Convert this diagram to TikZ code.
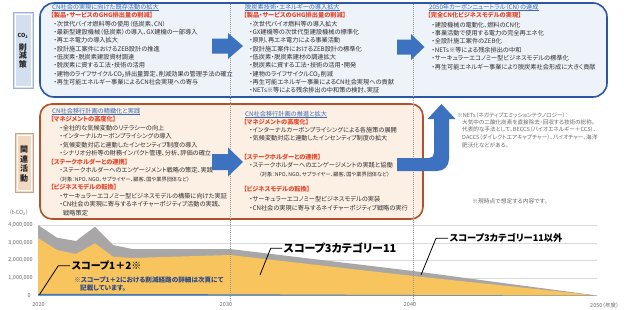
\documentclass[tikz,border=0pt]{standalone}
\usepackage{fontspec}
\setmainfont{Noto Sans CJK JP}[RawFeature=+palt]
\definecolor{topborder}{HTML}{2B58A5}
\definecolor{topfill}{HTML}{EEF2F9}
\definecolor{orgborder}{HTML}{B4512B}
\definecolor{orgfill}{HTML}{FCEFE4}
\definecolor{arrblue}{HTML}{3D72C0}
\definecolor{ttlblue}{HTML}{3A6DB6}
\definecolor{hdred}{HTML}{E4472A}
\definecolor{bodytxt}{HTML}{303030}
\definecolor{notegray}{HTML}{6A6A6A}
\definecolor{gridc}{HTML}{DADADA}
\definecolor{scgray}{HTML}{A9A6A8}
\definecolor{scyellow}{HTML}{F8C45E}
\definecolor{scblue}{HTML}{3F7BC4}
\definecolor{notenavy}{HTML}{2C4A8A}
\definecolor{lblbluefill}{HTML}{D3DFEF}
\definecolor{lblblueline}{HTML}{9FB2CF}
\definecolor{lblorgfill}{HTML}{F2D8C0}
\definecolor{lblorgline}{HTML}{C9A488}
\newcommand\ulx[1]{\setbox0=\hbox{#1}\rlap{\rule[-1.1pt]{\wd0}{0.4pt}}\box0}
\begin{document}
\begin{tikzpicture}[x=1pt,y=-1pt,
 txt/.style={inner sep=0pt,anchor=base west,text=bodytxt,font=\fontsize{6.2}{6.5}\selectfont},
 ttl/.style={txt,text=ttlblue},
 hdr/.style={txt,text=hdred,font=\bfseries\fontsize{6.2}{6.5}\selectfont},
 sml/.style={txt,font=\fontsize{5.2}{5.5}\selectfont},
 fnote/.style={inner sep=0pt,anchor=base west,text=notegray,font=\fontsize{5.6}{6}\selectfont},
 axl/.style={inner sep=0pt,text=notegray,font=\fontsize{5.5}{6}\selectfont},
 bigtxt/.style={inner sep=1.5pt,anchor=west,text=black,font=\bfseries\fontsize{#1}{#1}\selectfont},
 notetxt/.style={inner sep=0pt,anchor=base west,text=notenavy,font=\bfseries\fontsize{6.6}{7}\selectfont},
 leader/.style={draw=black,line width=0.8pt},
 dotl/.style={draw=gray!85,line width=0.6pt,dash pattern=on 0.7pt off 1.3pt},
 vlabel/.style={inner sep=0pt,align=center,text=black!85,font=\bfseries\fontsize{8}{#1}\selectfont}
]
\useasboundingbox (0,0) rectangle (624,309);
\fill[white] (0,0) rectangle (624,309);

% ---------- boxes ----------
\draw[draw=topborder,fill=topfill,line width=1.6pt,rounded corners=14pt] (40,3) rectangle (607,97);
\draw[draw=orgborder,fill=orgfill,line width=1.6pt,rounded corners=12pt] (40,104) rectangle (423,219);

% ---------- side labels ----------
\draw[draw=lblblueline,fill=lblbluefill,line width=0.6pt] (13,12) rectangle (33,88);
\draw[white,line width=0.6pt] (15,14) rectangle (31,86);
\node[inner sep=0pt,text=black!85,font=\bfseries\fontsize{5.5}{6}\selectfont] (co2) at (23,35.5) {CO\textsubscript{2}};
\node[vlabel=8.5] (sakugen) at (23,55.5) {削\\減\\策};
\draw[draw=lblorgline,fill=lblorgfill,line width=0.6pt] (15,133) rectangle (33,192);
\draw[white,line width=0.6pt] (17,135) rectangle (31,190);
\node[vlabel=9.5] (kanren) at (24,164) {関\\連\\活\\動};

% ---------- chart ----------
\foreach \v/\yy in {0/295.5,1/278,2/260.5,3/243,4/225.5}{
  \draw[gridc,line width=0.5pt] (38,\yy) -- (597,\yy);
}
\fill[scgray] (38,295.5) -- (38,225) -- (57,237.7) -- (76,241) -- (95,226.7) -- (113,245) -- (132,249) -- (230,249) -- (413,271) -- (597,295.5) -- cycle;
\fill[scyellow] (38,295.5) -- (38,238) -- (57,250) -- (76,254) -- (95,243.3) -- (113,256.7) -- (132,258) -- (230,255) -- (413,276) -- (597,295.5) -- cycle;
\fill[scblue] (38,295.5) -- (38,293.8) -- (230,294.3) -- (413,295) -- (597,295.5) -- cycle;

\node[axl,anchor=west] (yunit) at (9,213) {（t-CO\textsubscript{2}）};
\node[axl,anchor=east] (y4) at (33,225.5) {4,000,000};
\node[axl,anchor=east] (y3) at (33,243) {3,000,000};
\node[axl,anchor=east] (y2) at (33,260.5) {2,000,000};
\node[axl,anchor=east] (y1) at (33,278) {1,000,000};
\node[axl,anchor=east] (y0) at (31,295.5) {0};
\node[axl] (x2020) at (38.5,305) {2020};
\node[axl] (x2030) at (226,305) {2030};
\node[axl] (x2040) at (410,305) {2040};
\node[axl,anchor=west] (x2050) at (590,305) {2050（年度）};

% ---------- dotted year lines ----------
\draw[dotl] (230,4) -- (230,303);
\draw[dotl] (413,4) -- (413,303);

% ---------- chart labels ----------
\node[bigtxt=10] (s12) at (70,265.7) {スコープ1＋2※};
\coordinate (s12p) at (39.5,294.5);
\coordinate (s12c) at (58.3,265.7);
\draw[leader] (s12p) -- (s12c) -- (s12.west);
\node[notetxt] (n1) at (74,282.4) {※スコープ1＋2における削減経路の詳細は次頁にて};
\node[notetxt] (n2) at (80,290.6) {記載しています。};

\node[bigtxt=11] (s3) at (282,248.3) {スコープ3カテゴリー11};
\coordinate (s3p) at (260,275);
\coordinate (s3c) at (270.7,248.3);
\draw[leader] (s3p) -- (s3c) -- (s3.west);

\node[bigtxt=9.2] (s3o) at (448,238.3) {スコープ3カテゴリー11以外};
\coordinate (s3op) at (421,275);
\coordinate (s3oc) at (436,238.3);
\draw[leader] (s3op) -- (s3oc) -- (s3o.west);

% ---------- top row texts ----------
\node[ttl] (ta) at (52,9.4) {\ulx{CN社会の実現に向けた既存活動の拡大}};
\node[hdr] (ha) at (50.5,17.5) {【製品・サービスのGHG排出量の削減】};
\foreach \itm [count=\i from 0] in {
 次世代バイオ燃料等の使用（低炭素、CN）,
 最新型建設機械（低炭素）の導入、GX建機の一部導入,
 再エネ電力の導入拡大,
 設計施工案件におけるZEB設計の推進,
 低炭素・脱炭素建設資材調達,
 脱炭素に資する工法・技術の活用,
 {建物のライフサイクルCO\textsubscript{2}排出量算定、削減効果の管理手法の確立},
 再生可能エネルギー事業によるCN社会実現への寄与}
 \node[txt] (ba\i) at (53.5,26.1+8.35*\i) {・\itm};

\node[ttl] (tb) at (245,9.4) {\ulx{脱炭素技術・エネルギーの導入拡大}};
\node[hdr] (hb) at (243.5,17.5) {【製品・サービスのGHG排出量の削減】};
\foreach \itm [count=\i from 0] in {
 次世代バイオ燃料等の導入拡大,
 GX建機等の次世代型建設機械の標準化,
 原則、再エネ電力による事業活動,
 設計施工案件におけるZEB設計の標準化,
 低炭素・脱炭素建材の調達拡大,
 脱炭素に資する工法・技術の活用・開発,
 {建物のライフサイクルCO\textsubscript{2}削減},
 再生可能エネルギー事業によるCN社会実現への貢献,
 NETs※等による残余排出の中和策の検討、実証}
 \node[txt] (bb\i) at (249.3,26.1+8.35*\i) {・\itm};

\node[ttl] (tc) at (429,9.4) {\ulx{2050年カーボンニュートラル（CN）の達成}};
\node[hdr] (hc) at (427.5,17.5) {【完全CN化ビジネスモデルの実現】};
\foreach \itm [count=\i from 0] in {
 建設機械の電動化、燃料のCN化,
 事業活動で使用する電力の完全再エネ化,
 全設計施工案件のZEB化,
 NETs※等による残余排出の中和,
 サーキュラーエコノミー型ビジネスモデルの標準化,
 再生可能エネルギー事業により脱炭素社会形成に大きく貢献}
 \node[txt] (bc\i) at (431.5,27.1+8.4*\i) {・\itm};

% ---------- orange row texts ----------
\node[ttl] (td) at (52,113.1) {\ulx{CN社会移行計画の精緻化と実践}};
\node[hdr] (hd1) at (50.5,121.6) {【マネジメントの高度化】};
\node[txt] (bd1) at (59.5,130.1) {・全社的な気候変動のリテラシーの向上};
\node[txt] (bd2) at (59.5,138.6) {・インターナルカーボンプライシングの導入};
\node[txt] (bd3) at (59.5,147.1) {・気候変動対応と連動したインセンティブ制度の導入};
\node[txt] (bd4) at (59.5,155.6) {・シナリオ分析等の財務インパクト管理、分析、評価の確立};
\node[hdr] (hd2) at (50.5,164.1) {【ステークホルダーとの連携】};
\node[txt] (bd5) at (59.5,172.6) {・ステークホルダーへのエンゲージメント戦略の策定、実践};
\node[sml] (bd6) at (59,181) {（対象：NPO、NGO、サプライヤー、顧客、国や業界団体など）};
\node[hdr] (hd3) at (50.5,189.6) {【ビジネスモデルの転換】};
\node[txt] (bd7) at (59.5,198.1) {・サーキュラーエコノミー型ビジネスモデルの構築に向けた実証};
\node[txt] (bd8) at (59.5,206.6) {・CN社会の実現に寄与するネイチャーポジティブ活動の実践、};
\node[txt] (bd9) at (63,215.1) {戦略策定};

\node[ttl] (te) at (245,116.1) {\ulx{CN社会移行計画の推進と拡大}};
\node[hdr] (he1) at (243.5,124.1) {【マネジメントの高度化】};
\node[txt] (be1) at (249.3,132.1) {・インターナルカーボンプライシングによる各施策の展開};
\node[txt] (be2) at (249.3,140.1) {・気候変動対応と連動したインセンティブ制度の拡大};
\node[hdr] (he2) at (243.5,159.1) {【ステークホルダーとの連携】};
\node[txt] (be3) at (249.3,167.1) {・ステークホルダーへのエンゲージメントの実践と協働};
\node[sml] (be4) at (259,176) {（対象：NPO、NGO、サプライヤー、顧客、国や業界団体など）};
\node[hdr] (he3) at (243.5,191.1) {【ビジネスモデルの転換】};
\node[txt] (be5) at (249.3,201.1) {・サーキュラーエコノミー型ビジネスモデルの実装};
\node[txt] (be6) at (249.3,210.1) {・CN社会の実現に寄与するネイチャーポジティブ戦略の実行};

% ---------- footnotes ----------
\node[fnote] (f1) at (457,117.7) {※NETs（ネガティブエミッションテクノロジー）：};
\node[fnote] (f2) at (462,124.5) {大気中の二酸化炭素を直接除去・回収する技術の総称。};
\node[fnote] (f3) at (462,131.5) {代表的な手法として、BECCS（バイオエネルギー＋CCS）、};
\node[fnote] (f4) at (462,139.3) {DACCS（ダイレクトエアキャプチャー）、バイオチャー、海洋};
\node[fnote] (f5) at (462,147) {肥沃化などがある。};
\node[fnote,font=\fontsize{5.8}{6}\selectfont] (f6) at (472,203.2) {※現時点で想定する内容です。};

% ---------- arrows ----------
\fill[arrblue] (212,38.5) -- (228,38.5) -- (228,33) -- (243,46) -- (228,59) -- (228,53.5) -- (212,53.5) -- cycle;
\fill[arrblue] (397,39.5) -- (411,39.5) -- (411,34) -- (424.5,47) -- (411,60) -- (411,54.5) -- (397,54.5) -- cycle;
\fill[arrblue] (212,154) -- (228,154) -- (228,147.5) -- (243,162) -- (228,176.5) -- (228,170) -- (212,170) -- cycle;
\fill[arrblue] (397,158) -- (429,158) .. controls (432,158) and (434,156) .. (434,153) -- (434,119) -- (427.5,119) -- (441.5,104) -- (455.5,119) -- (449,119) -- (449,159) .. controls (449,166) and (444,171) .. (437,171) -- (397,171) -- cycle;
\end{tikzpicture}
\end{document}
